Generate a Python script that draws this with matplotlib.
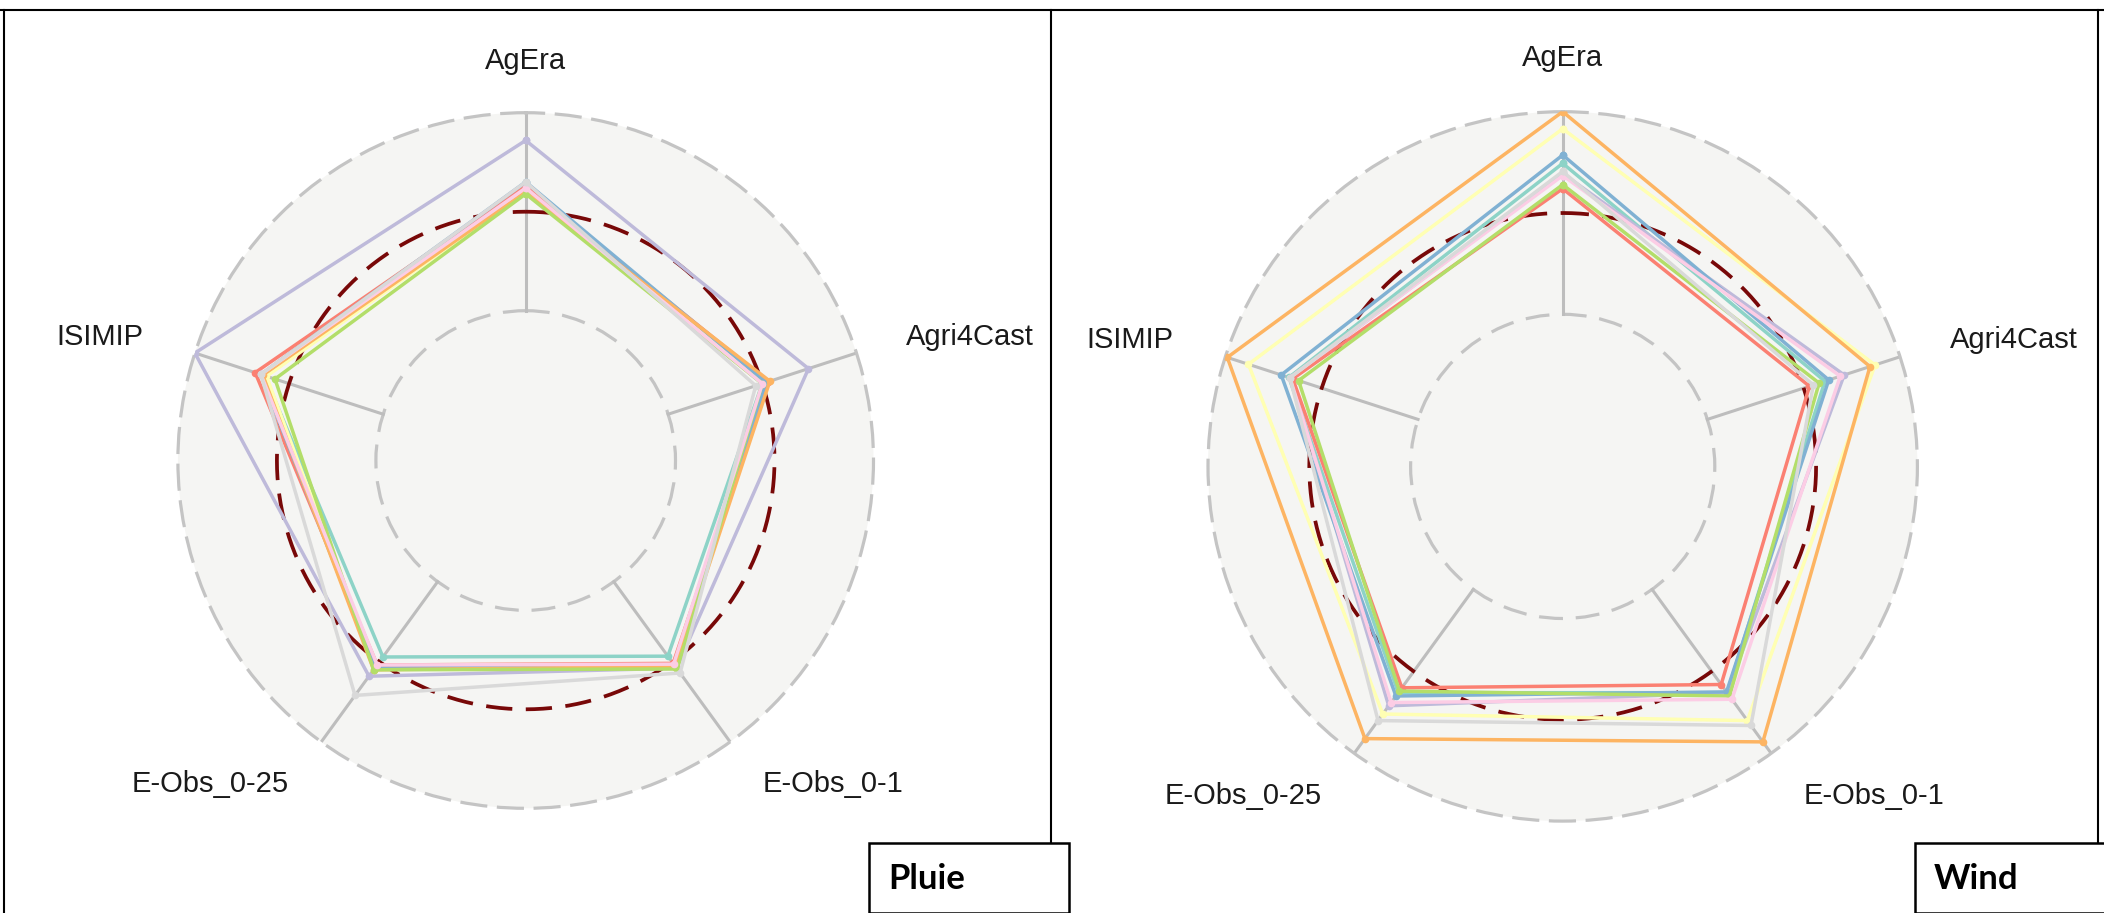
import matplotlib
matplotlib.use("Agg")
import matplotlib.pyplot as plt
import numpy as np
from matplotlib.lines import Line2D
from matplotlib.patches import Rectangle

# ── Données ──────────────────────────────────────────────────────────────────

CATEGORIES = ["AgEra", "Agri4Cast", "E-Obs_0-1", "E-Obs_0-25", "ISIMIP"]
SERIES_COLORS = ["#8dd3c7", "#ffffb3", "#bebada", "#fb8072", "#80b1d3",
                 "#fdb462", "#b3de69", "#fccde5", "#d9d9d9"]
REFERENCE = 1.0
R_MIN, R_MAX = 0.5, 1.5

# une ligne par série (même ordre que SERIES_COLORS), une colonne par catégorie
PLUIE = [
    [1.12, 1.00, 0.965, 0.97, 1.13],
    [1.10, 1.02, 1.03, 1.04, 1.12],
    [1.36, 1.245, 1.04, 1.09, 1.50],
    [1.13, 1.03, 1.01, 1.02, 1.18],
    [1.15, 1.02, 1.02, 1.04, 1.15],
    [1.10, 1.04, 1.03, 1.05, 1.14],
    [1.09, 1.00, 1.045, 1.05, 1.075],
    [1.12, 1.00, 1.015, 1.02, 1.15],
    [1.15, 0.965, 1.07, 1.21, 1.15],
]

WIND = [
    [1.245, 1.11, 1.13, 1.13, 1.17],
    [1.416, 1.37, 1.30, 1.26, 1.38],
    [1.195, 1.21, 1.13, 1.21, 1.16],
    [1.12, 1.03, 1.08, 1.10, 1.15],
    [1.286, 1.13, 1.125, 1.15, 1.21],
    [1.50, 1.344, 1.43, 1.41, 1.49],
    [1.14, 1.08, 1.15, 1.12, 1.12],
    [1.185, 1.19, 1.17, 1.19, 1.165],
    [1.205, 1.05, 1.33, 1.30, 1.165],
]

W, H = 2104, 913

# position des étiquettes (en rayons, depuis le centre) et alignement
LABEL_POS = [(0.0, 1.15, "center"), (1.093, 0.355, "left"), (0.68, -0.93, "left"),
             (-0.68, -0.93, "right"), (-1.098, 0.355, "right")]


def px_box(cx, cy, R):
    """Boîte d'axes (fractions de figure) à partir d'un centre/rayon en pixels."""
    return [(cx - R) / W, (H - cy - R) / H, 2 * R / W, 2 * R / H]


def radar(fig, box, valeurs, hole_frac):
    ax = fig.add_axes(box, projection="polar")
    ax.set_theta_offset(np.pi / 2)
    ax.set_theta_direction(-1)
    r0 = (R_MIN - hole_frac * R_MAX) / (1 - hole_frac)
    ax.set_ylim(r0, R_MAX)
    ax.set_facecolor("#f5f5f3")

    angles = np.linspace(0, 2 * np.pi, len(CATEGORIES), endpoint=False)

    # grille
    ax.set_xticks(angles)
    ax.set_xticklabels([])
    ax.xaxis.grid(False)
    ax.set_yticks([R_MIN])
    ax.set_yticklabels([])
    ax.yaxis.grid(True, color="#c4c4c4", linewidth=2.3, linestyle=(0, (7.5, 4)))
    ax.tick_params(length=0)
    ax.spines["polar"].set_color("#c4c4c4")
    ax.spines["polar"].set_linewidth(2.3)
    ax.spines["polar"].set_linestyle((0, (7.5, 4)))
    for a in angles:
        ax.plot([a, a], [R_MIN, R_MAX], color="#bdbdbd", linewidth=2.2, zorder=2)

    # cercle de référence
    t = np.linspace(0, 2 * np.pi, 361)
    ax.plot(t, np.full_like(t, REFERENCE), color="#780808", linewidth=2.7,
            linestyle=(0, (7, 3.6)), zorder=3)

    # séries
    ang_c = np.append(angles, angles[0])
    for couleur, v in zip(SERIES_COLORS, valeurs):
        v = np.append(v, v[0])
        ax.plot(ang_c, v, color=couleur, linewidth=2.5, marker="o", markersize=4.5,
                zorder=4)

    for (ox, oy, ha), nom in zip(LABEL_POS, CATEGORIES):
        ax.text(0.5 + ox / 2, 0.5 + oy / 2, nom, transform=ax.transAxes, ha=ha,
                va="center", fontsize=21, color="#1a1a1a", family="Liberation Sans")
    return ax


fig = plt.figure(figsize=(W / 100, H / 100), dpi=100)

radar(fig, px_box(525.7, 460.5, 347.8), PLUIE, 0.4307)
radar(fig, px_box(1562.7, 466.4, 354.7), WIND, 0.4288)


def ligne(x0, y0, x1, y1):
    fig.add_artist(Line2D([x0 / W, x1 / W], [1 - y0 / H, 1 - y1 / H],
                          color="black", linewidth=1.5, zorder=1))


# cadre du tableau
ligne(0, 10.5, W, 10.5)
ligne(4, 10.5, 4, H)
ligne(1051, 10.5, 1051, H)
ligne(2098, 10.5, 2098, H)


def etiquette(x0, x1, texte):
    fig.add_artist(Rectangle((x0 / W, 0), (x1 - x0) / W, (H - 843) / H,
                             transform=fig.transFigure, facecolor="white",
                             edgecolor="black", linewidth=1.8, zorder=5))
    fig.text((x0 + 19) / W, 1 - 879 / H, texte, ha="left", va="center",
             fontsize=25, fontweight="bold", family="Lato", zorder=6)


etiquette(869, 1069, "Pluie")
etiquette(1915, 2110, "Wind")

fig.savefig("out.png", dpi=100)
